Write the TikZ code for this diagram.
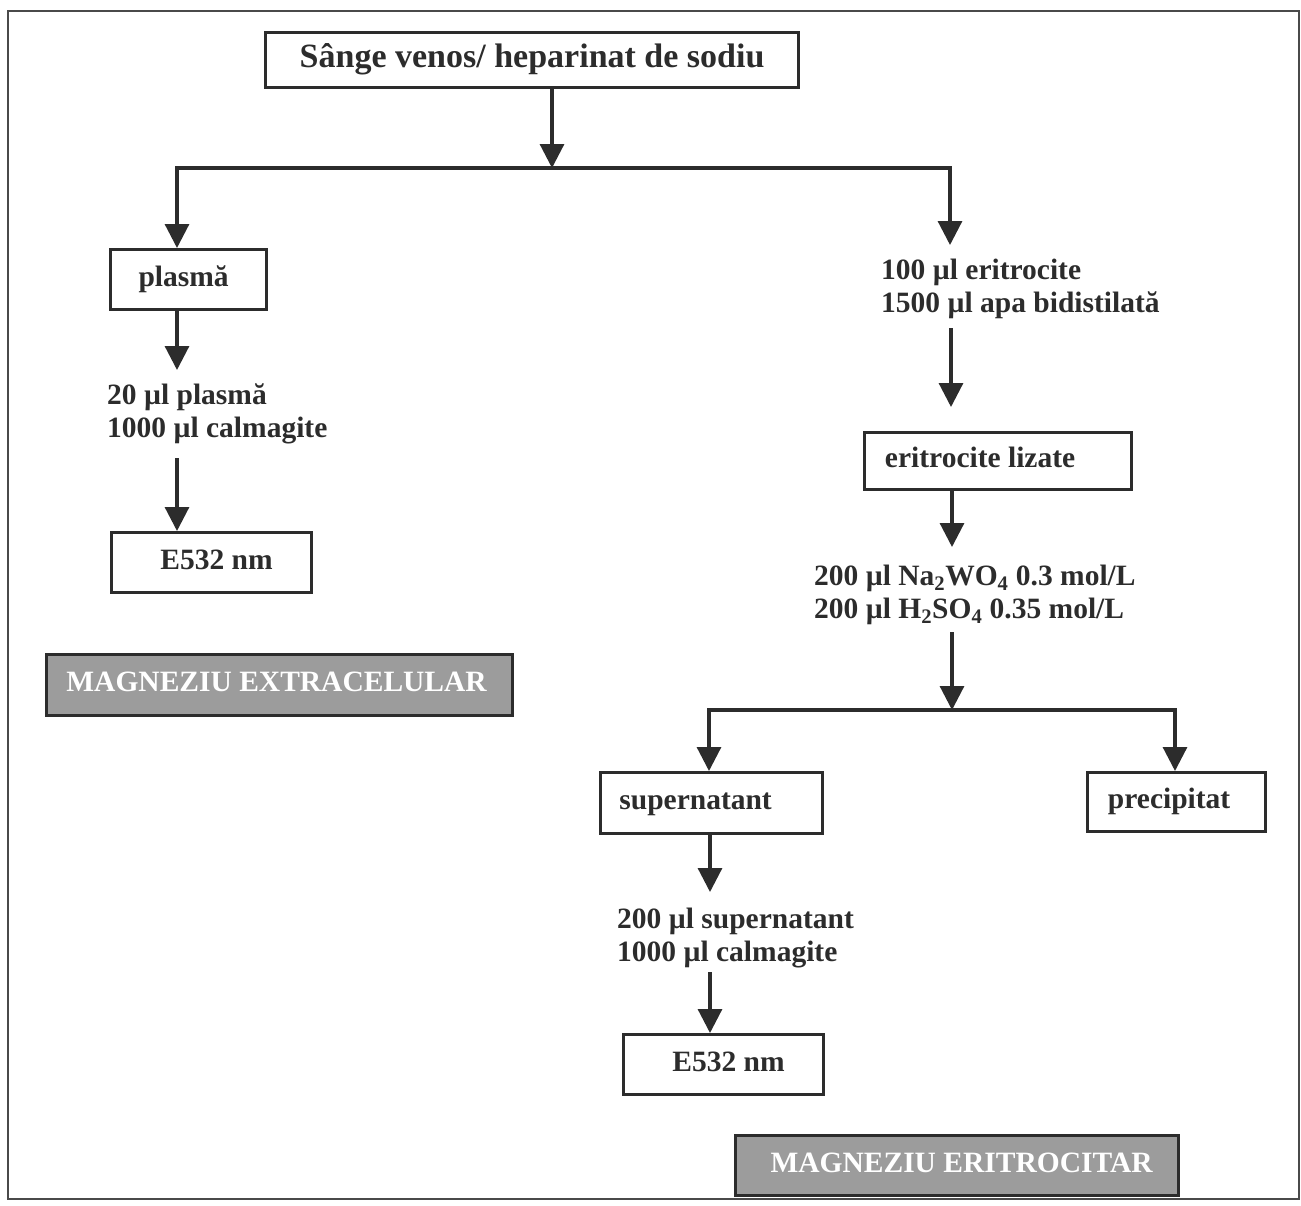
\documentclass[tikz,border=0pt]{standalone}
\usepackage{fontspec}
\setmainfont{Liberation Serif}
\usetikzlibrary{arrows.meta}
\definecolor{ink}{HTML}{2C2C2C}
\definecolor{framec}{HTML}{4A4A4A}
\definecolor{shade}{HTML}{9C9C9C}
\tikzset{
  txtfont/.style={font=\bfseries\fontsize{29.5}{34}\selectfont},
  lbl/.style={txtfont, text=ink, inner sep=0pt, anchor=base west},
  box/.style={draw=ink, line width=3.2pt, anchor=north west, fill=white, inner sep=0pt,
              txtfont, text=ink, text height=20pt, text depth=6.5pt},
  tag/.style={box, fill=shade, text=white},
  arr/.style={draw=ink, line width=3.2pt, -{Triangle[width=24pt,length=24pt]}},
  ln/.style={draw=ink, line width=3.2pt, line cap=rect},
}
\begin{document}
\begin{tikzpicture}[x=1pt,y=-1pt]
\useasboundingbox (0,0) rectangle (1301,1205);
\draw[draw=framec, line width=2.8pt] (8,11) rectangle (1299,1199);

% boxes
\node[box, minimum width=533, minimum height=55, font=\bfseries\fontsize{34}{40}\selectfont, text height=23pt, text depth=7.5pt] (src) at (264,31) {Sânge venos/ heparinat de sodiu};
\node[box, minimum width=156, minimum height=60] (plasma) at (109,248) {plasmă\hspace*{10pt}};
\node[box, minimum width=200, minimum height=60] (eL) at (110,531) {\hspace*{10pt}E532 nm};
\node[tag, minimum width=466, minimum height=61] (magL) at (45,653) {MAGNEZIU EXTRACELULAR\hspace*{6pt}};
\node[box, minimum width=267, minimum height=57] (liz) at (863,431) {eritrocite lizate\hspace*{36pt}};
\node[box, minimum width=222, minimum height=61] (sup) at (599,771) {supernatant\hspace*{32pt}};
\node[box, minimum width=178, minimum height=59] (pre) at (1086,771) {precipitat\hspace*{15pt}};
\node[box, minimum width=200, minimum height=60] (eR) at (622,1033) {\hspace*{10pt}E532 nm};
\node[tag, minimum width=443, minimum height=60] (magR) at (734,1134) {\hspace*{9pt}MAGNEZIU ERITROCITAR};

% text labels
\node[lbl] (t1a) at (107,404) {20 µl plasmă};
\node[lbl] (t1b) at (107,437) {1000 µl calmagite};
\node[lbl] (t2a) at (881,279) {100 µl eritrocite};
\node[lbl] (t2b) at (881,312) {1500 µl apa bidistilată};
\node[lbl] (t3a) at (814,585) {200 µl Na\textsubscript{2}WO\textsubscript{4} 0.3 mol/L};
\node[lbl] (t3b) at (814,618) {200 µl H\textsubscript{2}SO\textsubscript{4} 0.35 mol/L};
\node[lbl] (t4a) at (617,928) {200 µl supernatant};
\node[lbl] (t4b) at (617,961) {1000 µl calmagite};

% connectors
\coordinate (j1) at (552,168);
\coordinate (bL) at (177,168);
\coordinate (bR) at (950,168);
\draw[arr] (src.south -| j1) -- (j1);
\draw[ln] (bL) -- (bR);
\draw[arr] (bL) -- (bL |- plasma.north);
\coordinate (e2) at (950,245);
\draw[arr] (bR) -- (e2);

\coordinate (e1) at (177,370);
\draw[arr] (plasma.south -| e1) -- (e1);
\coordinate (s3) at (177,458);
\draw[arr] (s3) -- (s3 |- eL.north);

\coordinate (s4) at (951,328);
\coordinate (e4) at (951,407);
\draw[arr] (s4) -- (e4);
\coordinate (e5) at (952,547);
\draw[arr] (liz.south -| e5) -- (e5);
\coordinate (s6) at (952,632);
\coordinate (j2) at (952,710);
\draw[arr] (s6) -- (j2);
\coordinate (bL2) at (709,710);
\coordinate (bR2) at (1175,710);
\draw[ln] (bL2) -- (bR2);
\draw[arr] (bL2) -- (bL2 |- sup.north);
\draw[arr] (bR2) -- (bR2 |- pre.north);
\coordinate (e7) at (710,892);
\draw[arr] (sup.south -| e7) -- (e7);
\coordinate (s8) at (710,972);
\draw[arr] (s8) -- (s8 |- eR.north);
\end{tikzpicture}
\end{document}
